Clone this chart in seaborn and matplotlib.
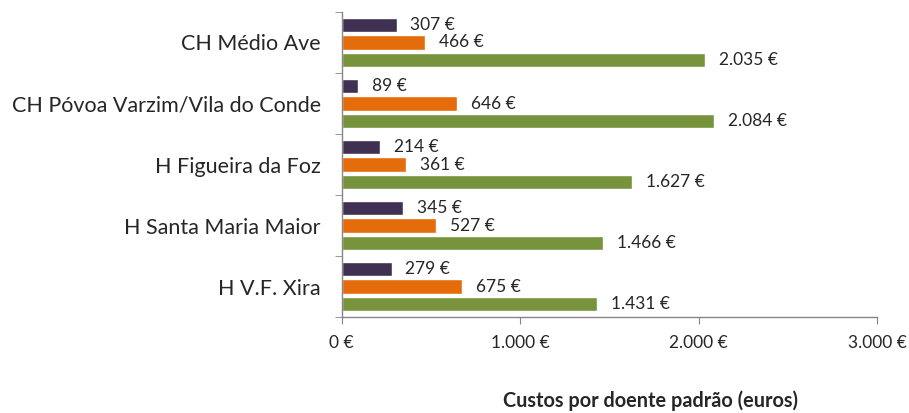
import pandas as pd
import numpy as np
import matplotlib.pyplot as plt
import seaborn as sns

# data
hospitals = ['CH Médio Ave', 'CH Póvoa Varzim/Vila do Conde', 'H Figueira da Foz',
             'H Santa Maria Maior', 'H V.F. Xira']
series = ['Série 1', 'Série 2', 'Série 3']
serie1 = [307, 89, 214, 345, 279]
serie2 = [466, 646, 361, 527, 675]
serie3 = [2035, 2084, 1627, 1466, 1431]
xticks = [0, 1000, 2000, 3000]

df = pd.DataFrame({
    'Hospital': hospitals * 3,
    'Serie': [s for s in series for _ in hospitals],
    'Custo': serie1 + serie2 + serie3,
})

sns.set_style('white')
plt.rcParams['font.family'] = ['Lato', 'DejaVu Sans']

colors = ['#403152', '#E46C0A', '#77933C']

fig = plt.figure(figsize=(9.09, 4.13), dpi=100)
ax = fig.add_axes([0.376, 0.232, 0.589, 0.739])

sns.barplot(data=df, y='Hospital', x='Custo', hue='Serie', order=hospitals,
            hue_order=series, palette=colors, orient='h', width=0.86,
            legend=False, ax=ax, saturation=1, errorbar=None)

# small gaps between the bars of a group
for p in ax.patches:
    h = p.get_height()
    y = p.get_y()
    p.set_height(h * 0.82)
    p.set_y(y + h * 0.09)

def eur(v):
    return f'{v:,.0f} €'.replace(',', '.')

for cont in ax.containers:
    ax.bar_label(cont, labels=[eur(v) for v in cont.datavalues], padding=10, fontsize=12.5)

ax.set_xlim(0, 3000)
ax.set_ylim(len(hospitals) - 0.5, -0.5)
ax.set_xticks(xticks)
ax.set_xticklabels([eur(v) for v in xticks], fontsize=12.5)
ax.set_yticks(range(len(hospitals)))
ax.set_yticklabels(hospitals, fontsize=15.5)
ax.set_yticks(np.arange(-0.5, len(hospitals), 1), minor=True)
ax.tick_params(axis='y', which='major', length=0, pad=15)
ax.tick_params(axis='y', which='minor', length=5, color='#868686', left=True)
ax.tick_params(axis='x', which='major', length=5, color='#868686', bottom=True, pad=8)

ax.set_ylabel('')
ax.set_xlabel('Custos por doente padrão (euros)', fontsize=14.3, fontweight='bold')
ax.xaxis.set_label_coords(0.576, -0.24)

for s in ['top', 'right']:
    ax.spines[s].set_visible(False)
for s in ['left', 'bottom']:
    ax.spines[s].set_color('#868686')
    ax.spines[s].set_linewidth(1)

plt.savefig('out.png', dpi=100)
